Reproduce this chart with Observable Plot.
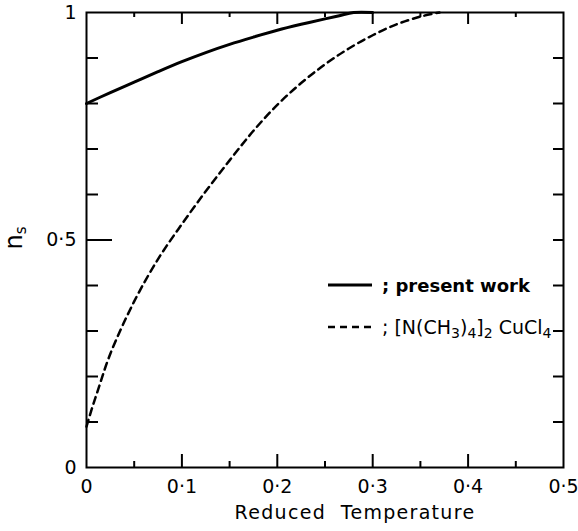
<!DOCTYPE html>
<html>
<head>
<meta charset="utf-8">
<script src="https://cdn.jsdelivr.net/npm/d3@7"></script>
<script src="https://cdn.jsdelivr.net/npm/@observablehq/plot@0.6"></script>
<style>
  body { margin: 0; background: #fff; }
  #chart { width: 578px; height: 531px; }
</style>
</head>
<body>
<div id="chart"></div>
<script>
// Superfluid fraction n_s against reduced temperature
const tPresent = [0, 0.025, 0.05, 0.075, 0.1, 0.125, 0.15, 0.175, 0.2, 0.225, 0.25, 0.265, 0.28, 0.3];
const nsPresent = [0.80, 0.824, 0.847, 0.870, 0.892, 0.912, 0.930, 0.946, 0.961, 0.974, 0.986, 0.993, 1.0, 1.0];

const tCuCl = [0, 0.005, 0.012, 0.025, 0.05, 0.075, 0.1, 0.125, 0.15, 0.175, 0.2, 0.225, 0.25, 0.275, 0.3, 0.325, 0.35, 0.37];
const nsCuCl = [0.09, 0.125, 0.17, 0.25, 0.365, 0.458, 0.535, 0.607, 0.675, 0.74, 0.797, 0.845, 0.886, 0.921, 0.95, 0.974, 0.991, 1.0];

const xMajorTicks = [0, 0.1, 0.2, 0.3, 0.4, 0.5];
const xMinorTicks = [0.05, 0.15, 0.25, 0.35, 0.45];
const xTickLabels = ["0", "0·1", "0·2", "0·3", "0·4", "0·5"];
const yMinorTicks = [0.1, 0.2, 0.3, 0.4, 0.6, 0.7, 0.8, 0.9];
const yMajorTicks = [0.5];
const yLabelTicks = [0, 0.5, 1];
const yTickLabels = ["0", "0·5", "1"];

const seriesNames = ["; present work", "; [N(CH3)4]2 CuCl4"];

const present = tPresent.map((t, i) => ({t, ns: nsPresent[i]}));
const cucl = tCuCl.map((t, i) => ({t, ns: nsCuCl[i]}));

const W = 578, H = 531;
const mL = 86, mR = 15, mT = 12, mB = 64;
const innerW = W - mL - mR, innerH = H - mT - mB;
const font = "'DejaVu Sans', sans-serif";

const chart = Plot.plot({
  width: W,
  height: H,
  marginLeft: mL,
  marginRight: mR,
  marginTop: mT,
  marginBottom: mB,
  x: {domain: [0, 0.5]},
  y: {domain: [0, 1]},
  style: {fontFamily: font, fontSize: "18px", color: "#000", background: "#fff", overflow: "visible"},
  marks: [
    // inward ticks: bottom, top, left, right
    Plot.ruleX(xMajorTicks.slice(1, -1), {insetTop: innerH - 13, stroke: "#000", strokeWidth: 2}),
    Plot.ruleX(xMinorTicks, {insetTop: innerH - 6, stroke: "#000", strokeWidth: 2}),
    Plot.ruleX(xMajorTicks.slice(1, -1), {insetBottom: innerH - 12, stroke: "#000", strokeWidth: 2}),
    Plot.ruleX(xMinorTicks, {insetBottom: innerH - 5, stroke: "#000", strokeWidth: 2}),
    Plot.ruleY(yMinorTicks, {insetRight: innerW - 12, stroke: "#000", strokeWidth: 2}),
    Plot.ruleY(yMajorTicks, {insetRight: innerW - 26, stroke: "#000", strokeWidth: 2}),
    Plot.ruleY(yMinorTicks.concat(yMajorTicks), {insetLeft: innerW - 10, stroke: "#000", strokeWidth: 2}),
    Plot.frame({stroke: "#000", strokeWidth: 2}),
    Plot.axisX(xMajorTicks, {
      tickSize: 0, tickPadding: 12, label: null,
      tickFormat: d => xTickLabels[xMajorTicks.indexOf(d)],
      fontSize: 19
    }),
    Plot.axisY(yLabelTicks, {
      tickSize: 0, tickPadding: 10, label: null,
      tickFormat: d => yTickLabels[yLabelTicks.indexOf(d)],
      fontSize: 19
    }),
    Plot.line(present, {x: "t", y: "ns", stroke: "#000", strokeWidth: 3, curve: "catmull-rom"}),
    Plot.line(cucl, {x: "t", y: "ns", stroke: "#000", strokeWidth: 2.5, strokeDasharray: "7,5", curve: "catmull-rom"})
  ]
});

document.getElementById("chart").appendChild(chart);

// axis titles and legend with sub-scripted text
const svg = d3.select(chart);
const g = svg.append("g").attr("font-family", font).attr("fill", "#000").attr("text-anchor", "start");

g.append("text")
  .attr("x", 355)
  .attr("y", 519)
  .attr("text-anchor", "middle")
  .attr("font-size", 19)
  .attr("letter-spacing", "1.3px")
  .attr("xml:space", "preserve")
  .style("white-space", "pre")
  .text("Reduced  Temperature");

const yl = g.append("text")
  .attr("transform", "translate(22,238) rotate(-90)")
  .attr("text-anchor", "middle")
  .attr("font-size", 24);
yl.append("tspan").text("n");
yl.append("tspan").attr("font-size", 15).attr("dy", 4).text("s");

// legend
const legendX0 = 328, legendX1 = 372, textX = 382;
g.append("line").attr("x1", legendX0).attr("x2", legendX1).attr("y1", 285).attr("y2", 285)
  .attr("stroke", "#000").attr("stroke-width", 3);
g.append("text").attr("x", textX).attr("y", 292).attr("font-size", 18).attr("font-weight", 600)
  .text(seriesNames[0]);

g.append("line").attr("x1", legendX0).attr("x2", legendX1).attr("y1", 327).attr("y2", 327)
  .attr("stroke", "#000").attr("stroke-width", 2.5).attr("stroke-dasharray", "7,5");
const t2 = g.append("text").attr("x", textX).attr("y", 334).attr("font-size", 19);
// "; [N(CH3)4]2 CuCl4" with subscripts
const parts = [["; [N(CH", 0], ["3", 1], [")", 0], ["4", 1], ["]", 0], ["2", 1], [" CuCl", 0], ["4", 1]];
let shifted = false;
parts.forEach(([s, sub]) => {
  const ts = t2.append("tspan").text(s);
  if (sub && !shifted) { ts.attr("dy", 4).attr("font-size", 14); shifted = true; }
  else if (sub) { ts.attr("font-size", 14); }
  else if (!sub && shifted) { ts.attr("dy", -4); shifted = false; }
});
</script>
</body>
</html>
